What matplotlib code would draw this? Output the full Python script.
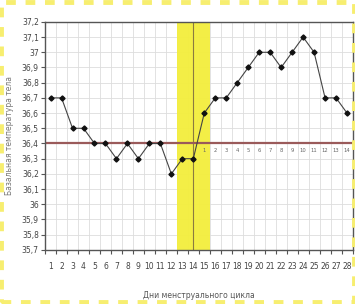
import numpy as np
import matplotlib
matplotlib.use("Agg")
import matplotlib.pyplot as plt
from matplotlib.patches import Rectangle

plt.rcParams['font.family'] = ['DejaVu Sans']

# data
days = np.arange(1, 29)
temps = [36.7, 36.7, 36.5, 36.5, 36.4, 36.4, 36.3, 36.4, 36.3, 36.4,
         36.4, 36.2, 36.3, 36.3, 36.6, 36.7, 36.7, 36.8, 36.9, 37.0,
         37.0, 36.9, 37.0, 37.1, 37.0, 36.7, 36.7, 36.6]
yticks = np.round(np.arange(35.7, 37.21, 0.1), 1)
ytick_labels = [("%.1f" % v).replace(".0", "").replace(".", ",") for v in yticks]
cover_line = 36.4
fertile_span = (12.5, 15.5)
ovulation_day = 14
luteal_days = np.arange(15, 29)
luteal_labels = [str(i) for i in range(1, 15)]

fig = plt.figure(figsize=(3.55, 3.04), dpi=100)
ax = fig.add_axes([0.127, 0.178, 0.866, 0.75])
ax.set_axisbelow(True)

ax.axvspan(*fertile_span, color='#f3ee3c', alpha=0.95, zorder=1, lw=0)
ax.axvline(ovulation_day, color='#8a7a40', lw=0.8, zorder=2)
ax.axhline(cover_line, color='#9a5a5a', lw=1.6, zorder=2)

ax.plot(days, temps, '-', color='#444444', lw=0.8, zorder=3)
ax.plot(days, temps, 'D', color='#111111', ms=2.6, zorder=4)

for d, lab in zip(luteal_days, luteal_labels):
    ax.text(d, cover_line - 0.03, lab, fontsize=3.8, color='#666666',
            ha='center', va='top', zorder=3)

ax.set_xlim(0.5, 28.5)
ax.set_ylim(35.7, 37.2)
ax.set_xticks(np.arange(0.5, 29, 1), minor=False)
ax.set_xticklabels([])
ax.set_xticks(days, minor=True)
ax.set_xticklabels([str(d) for d in days], minor=True, fontsize=5.5, color='#444444')
ax.tick_params(axis='x', which='major', length=3, color='#555555')
ax.tick_params(axis='x', which='minor', length=0, pad=9)
ax.set_yticks(yticks)
ax.set_yticklabels(ytick_labels, fontsize=5.5, color='#444444')
ax.tick_params(axis='y', length=3, color='#555555', pad=1.5)

ax.grid(True, which='major', color='#dddddd', lw=0.6)
for s in ax.spines.values():
    s.set_color('#555555')
    s.set_linewidth(1.0)

ax.set_xlabel('Дни менструального цикла', fontsize=5.5, color='#555555', labelpad=14)
ax.set_ylabel('Базальная температура тела', fontsize=5.5, color='#777777', labelpad=6)

# decorative dashed frame around the picture
fig.patches.append(Rectangle((0.004, 0.005), 0.992, 0.99, transform=fig.transFigure,
                             fill=False, edgecolor='#f7ee70', lw=3.5,
                             linestyle=(0, (2, 2))))

fig.savefig('out.png', dpi=100)
